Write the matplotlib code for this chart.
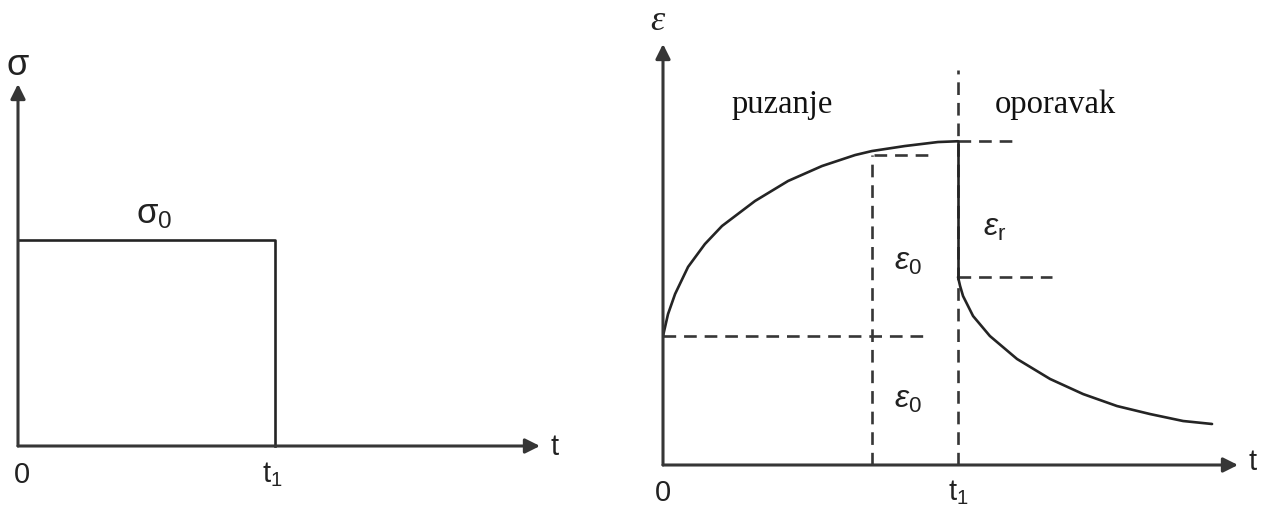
"""
Creep and recovery schematic: stress step (left) and strain response (right).
"""
import matplotlib
matplotlib.use("Agg")
import matplotlib.pyplot as plt

plt.rcParams["mathtext.fontset"] = "custom"
plt.rcParams["mathtext.rm"] = "Liberation Sans"
plt.rcParams["mathtext.it"] = "Liberation Sans:italic"
plt.rcParams["font.family"] = ["Liberation Sans", "DejaVu Sans"]

# ---- left panel: stress step sigma(t) ----
step_t = [0.0, 1.0, 1.0]
step_sigma = [1.0, 1.0, 0.0]
left_tmax = 2.03
left_smax = 1.757

# ---- right panel: strain eps(t), eps0 = 1, t1 = 1 ----
creep_t = [0.0, 0.017, 0.041, 0.085, 0.142, 0.20, 0.312, 0.424, 0.539,
           0.651, 0.708, 0.82, 0.932, 1.0]
creep_eps = [1.0, 1.17, 1.326, 1.536, 1.713, 1.853, 2.047, 2.202, 2.318,
             2.403, 2.434, 2.473, 2.504, 2.51]
recov_t = [1.0, 1.007, 1.017, 1.051, 1.108, 1.20, 1.312, 1.424, 1.539,
           1.651, 1.763, 1.861]
recov_eps = [1.457, 1.388, 1.31, 1.155, 1.0, 0.822, 0.667, 0.55, 0.457,
             0.395, 0.341, 0.318]
t1 = 1.0
t_mark = 0.708          # dashed vertical marking eps0 rise
eps0 = 1.0
eps_mark = 2.40
eps_top = 2.51
eps_rec = 1.457
right_tmax = 1.949
right_emax = 3.264

AX_C = "#363636"
LN_C = "#242424"
DASH = (0, (4.8, 3.0))


def axis_arrows(ax, xmax, ymax):
    kw = dict(arrowstyle="-|>", color=AX_C, lw=2.2, mutation_scale=22,
              shrinkA=0, shrinkB=0)
    ax.annotate("", xy=(xmax, 0), xytext=(0, 0), arrowprops=kw,
                annotation_clip=False)
    ax.annotate("", xy=(0, ymax), xytext=(0, 0), arrowprops=kw,
                annotation_clip=False)


def main():
    W, H = 1261, 506
    fig = plt.figure(figsize=(W / 100, H / 100), dpi=100)

    # ---- left panel ----
    axl = fig.add_axes([18 / W, (H - 447) / H, (540 - 18) / W, (447 - 85) / H])
    axl.set_xlim(0, left_tmax)
    axl.set_ylim(0, left_smax)
    axl.axis("off")
    axl.plot(step_t, step_sigma, color=LN_C, lw=1.9, clip_on=False)
    axis_arrows(axl, left_tmax, left_smax)
    tk = dict(fontsize=21, color="#222222", clip_on=False)
    axl.text(0.0, 1.85, "σ", ha="center", va="center",
             **dict(tk, fontsize=26))
    axl.text(0.53, 1.13, r"$\mathrm{σ}_\mathrm{0}$", ha="center", va="center",
             **dict(tk, fontsize=25))
    axl.text(0.016, -0.135, "0", ha="center", va="center", **tk)
    axl.text(0.99, -0.135, r"t$_\mathrm{1}$", ha="center", va="center", **tk)
    axl.text(2.085, 0.0, "t", ha="center", va="center", **tk)

    # ---- right panel ----
    axr = fig.add_axes([663 / W, (H - 466) / H, (1238 - 663) / W, (466 - 45) / H])
    axr.set_xlim(0, right_tmax)
    axr.set_ylim(0, right_emax)
    axr.axis("off")

    dk = dict(color=AX_C, lw=1.9, ls=DASH, clip_on=False)
    axr.plot([0, 0.888], [eps0, eps0], **dk)
    axr.plot([t_mark, t_mark], [0, eps_mark], **dk)
    axr.plot([0.715, 0.91], [eps_mark, eps_mark], **dk)
    axr.plot([t1, t1], [0, 3.06], **dk)
    axr.plot([t1, 1.2], [eps_top, eps_top], **dk)
    axr.plot([t1, 1.32], [eps_rec, eps_rec], **dk)

    ck = dict(color=LN_C, lw=1.9, solid_joinstyle="round",
              solid_capstyle="round")
    axr.plot(creep_t, creep_eps, **ck)
    axr.plot([t1, t1], [eps_top, eps_rec], **ck)
    axr.plot(recov_t, recov_eps, **ck)
    axis_arrows(axr, right_tmax, right_emax)

    axr.text(-0.02, 3.45, "ε", ha="center", va="center", fontsize=26,
             family="Liberation Serif", style="italic", color="#222222",
             clip_on=False)
    sk = dict(fontsize=23.5, family="Liberation Serif", color="#111111",
              ha="center", va="center")
    axr.text(0.405, 2.80, "puzanje", **sk)
    axr.text(1.33, 2.80, "oporavak", **sk)
    ek = dict(tk, fontsize=23)
    axr.text(0.83, 1.58, r"$\varepsilon_\mathrm{0}$", ha="center", va="center", **ek)
    axr.text(0.83, 0.51, r"$\varepsilon_\mathrm{0}$", ha="center", va="center", **ek)
    axr.text(1.125, 1.845, r"$\varepsilon_\mathrm{r}$", ha="center", va="center", **ek)
    axr.text(0.0, -0.21, "0", ha="center", va="center", **tk)
    axr.text(1.0, -0.21, r"t$_\mathrm{1}$", ha="center", va="center", **tk)
    axr.text(2.0, 0.03, "t", ha="center", va="center", **tk)

    fig.savefig("out.png", dpi=100)
    plt.close(fig)


if __name__ == "__main__":
    main()
